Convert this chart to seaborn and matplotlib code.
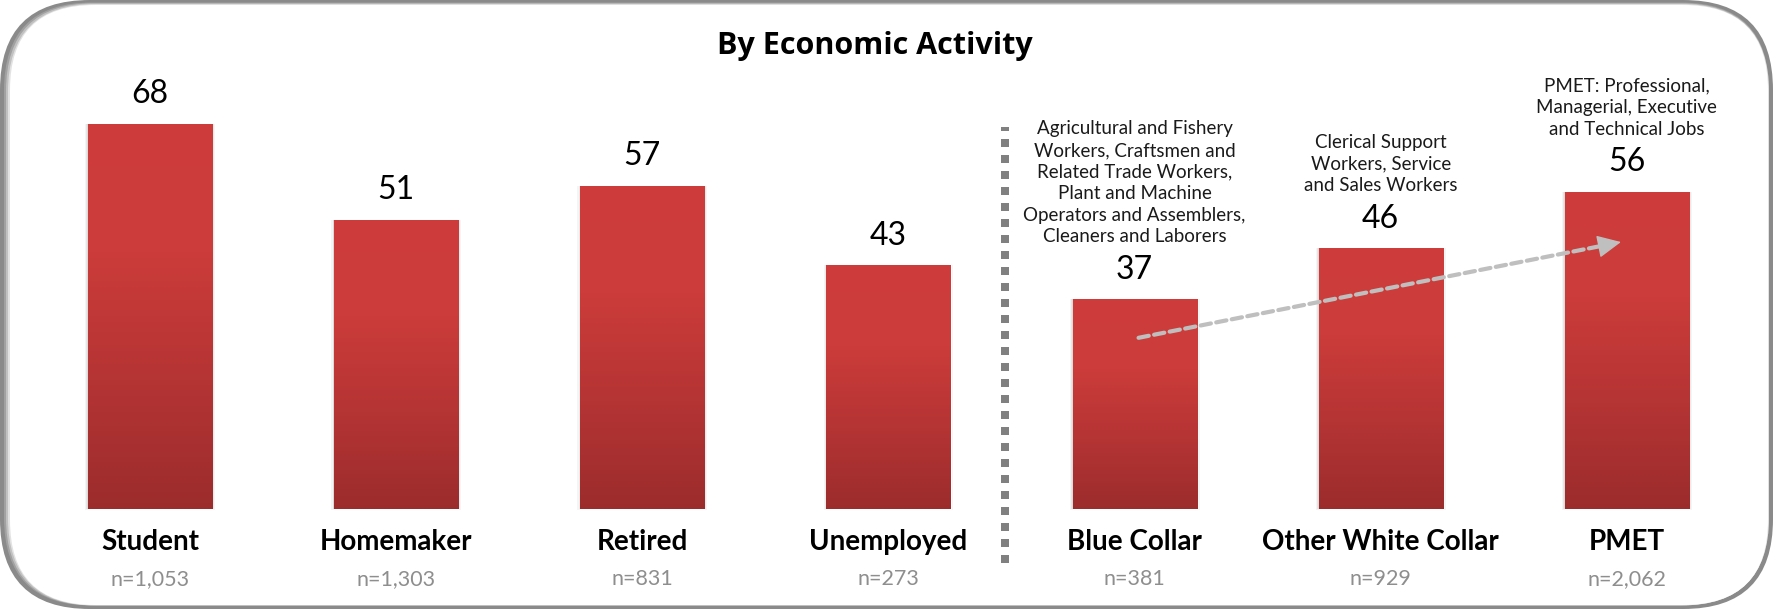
import numpy as np
import pandas as pd
import matplotlib
matplotlib.use("Agg")
import matplotlib.pyplot as plt
import seaborn as sns
from matplotlib.patches import FancyBboxPatch, Rectangle
from matplotlib.colors import LinearSegmentedColormap

# ---------------- data ----------------
title = "By Economic Activity"
categories = ["Student", "Homemaker", "Retired", "Unemployed",
              "Blue Collar", "Other White Collar", "PMET"]
values = [68, 51, 57, 43, 37, 46, 56]
sample_sizes = ["n=1,053", "n=1,303", "n=831", "n=273", "n=381", "n=929", "n=2,062"]
notes = ["", "", "", "",
         "Agricultural and Fishery\nWorkers, Craftsmen and\nRelated Trade Workers,\nPlant and Machine\nOperators and Assemblers,\nCleaners and Laborers",
         "Clerical Support\nWorkers, Service\nand Sales Workers",
         "PMET: Professional,\nManagerial, Executive\nand Technical Jobs"]

# ---------------- style ----------------
sns.set_theme(style="white")
plt.rcParams['font.family'] = ['Lato', 'DejaVu Sans']

W, H = 1777, 611
fig = plt.figure(figsize=(W / 100, H / 100), dpi=100)

# ---------------- rounded panel with shadow ----------------
bg = fig.add_axes([0, 0, 1, 1])
bg.set_xlim(0, W)
bg.set_ylim(H, 0)
bg.axis('off')
bg.add_patch(FancyBboxPatch((0, 0), 1773, 609, boxstyle="round,pad=0,rounding_size=90",
                            fc="#8a8a8a", ec="none"))
for k, a in enumerate([0.2, 0.35, 0.55]):
    bg.add_patch(FancyBboxPatch((4 + 2 * k, 2.5 + 0.8 * k), 1769 - (4 + 2 * k), 605.5 - (2.5 + 0.8 * k),
                                boxstyle="round,pad=0,rounding_size=88",
                                fc="white", ec="none", alpha=a))
bg.add_patch(FancyBboxPatch((10, 5), 1768 - 10, 605 - 5, boxstyle="round,pad=0,rounding_size=85",
                            fc="white", ec="none"))

# ---------------- bars ----------------
ax = fig.add_axes([0, 0, 1, 1])
ax.patch.set_alpha(0)
df = pd.DataFrame({"category": categories, "value": values})
sns.barplot(data=df, x="category", y="value", color="#C43A38", saturation=1,
            width=0.504, ax=ax, zorder=3)

cmap = LinearSegmentedColormap.from_list("bar", ["#9C2C2C", "#B53434", "#CB3C3A", "#CE3D3B"])
grad = np.linspace(0, 1, 256).reshape(-1, 1)
bars = list(ax.patches)
for p in bars:
    x0, y0 = p.get_x(), p.get_y()
    w, h = p.get_width(), p.get_height()
    # soft shadow
    for s, al in [(0.012, 0.04), (0.007, 0.06), (0.003, 0.08)]:
        ax.add_patch(Rectangle((x0 - s, y0 - s * 12), w + 2 * s, h + s * 10,
                               fc="black", ec="none", alpha=al, zorder=2))
    im = ax.imshow(grad, extent=[x0, x0 + w, y0, y0 + h], origin='lower', cmap=cmap,
                   aspect='auto', zorder=4, interpolation='bilinear')
    im.set_clip_path(p)

ax.set_xlim(-0.61, 6.61)
ax.set_ylim(-18.0, 89.8)
ax.axis('off')

# ---------------- labels ----------------
for i, (v, n, note) in enumerate(zip(values, sample_sizes, notes)):
    ax.text(i, v + 5.2, str(v), ha='center', va='center', fontsize=23, color='black', zorder=5)
    ax.text(i, -5.8, categories[i], ha='center', va='center', fontsize=20,
            fontweight='bold', color='black')
    ax.text(i, -12.4, n, ha='center', va='center', fontsize=15.5, color='#8E8E8E')
    if note:
        ax.text(i, v + 9.5, note, ha='center', va='bottom', fontsize=13.5,
                linespacing=1.33, color='#1a1a1a')

# separator between non-working and working groups
ax.plot([3.472, 3.472], [-9.5, 67.4], color='#808080', lw=5.76, dashes=(1, 1),
        dash_capstyle='butt', zorder=3)

# trend arrow across working groups
arrow_start = (4.016, 30.2)
arrow_end = (5.976, 47.1)
ax.annotate("", xy=(arrow_end[0] - 0.03, arrow_end[1] - 0.26), xytext=arrow_start,
            arrowprops=dict(arrowstyle='-', color='#BFBFBF', lw=3,
                            linestyle=(0, (2.5, 1.3)), shrinkA=0, shrinkB=0),
            zorder=6)
ax.annotate("", xy=arrow_end, xytext=(arrow_end[0] - 0.06, arrow_end[1] - 0.52),
            arrowprops=dict(arrowstyle='-|>,head_length=1.15,head_width=0.55',
                            color='#BFBFBF', lw=1, shrinkA=0, shrinkB=0,
                            mutation_scale=13),
            zorder=6)

fig.text(875 / W, 1 - 46 / H, title, ha='center', va='center', fontsize=22,
         fontweight='bold', color='black', family=['Open Sans', 'DejaVu Sans'])

fig.savefig("out.png", dpi=100)
